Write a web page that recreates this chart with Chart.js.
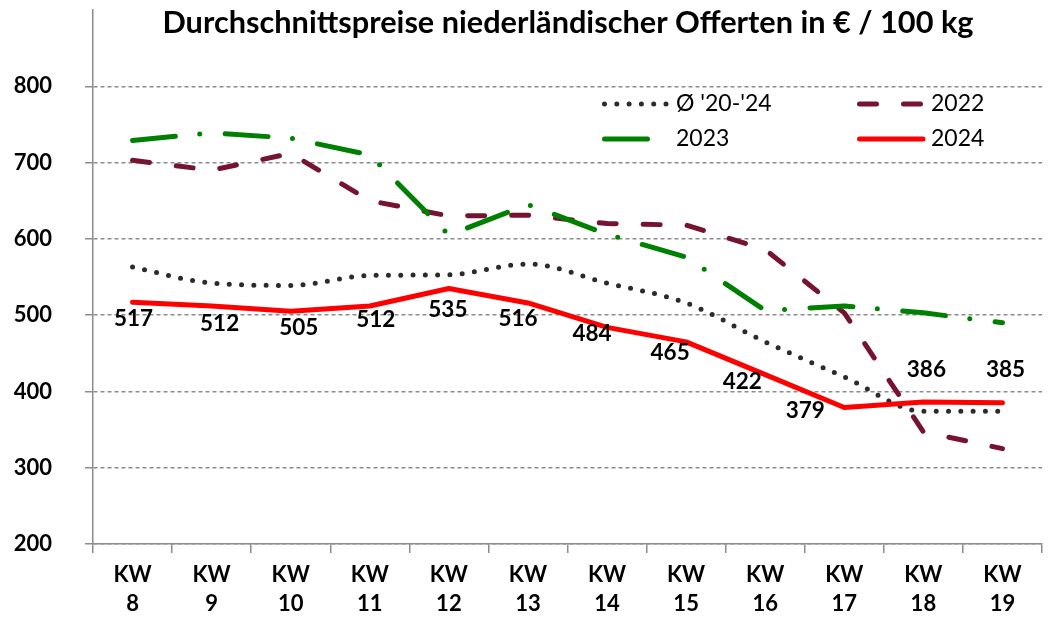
<!DOCTYPE html>
<html>
<head>
<meta charset="utf-8">
<script src="https://cdn.jsdelivr.net/npm/chart.js@4.4.1/dist/chart.umd.min.js"></script>
<style>
  html, body { margin: 0; padding: 0; background: #fff; }
</style>
</head>
<body>
<canvas id="priceChart" width="1053" height="624"></canvas>
<script>
// Chart data
const weeks = [["KW", "8"], ["KW", "9"], ["KW", "10"], ["KW", "11"], ["KW", "12"], ["KW", "13"],
               ["KW", "14"], ["KW", "15"], ["KW", "16"], ["KW", "17"], ["KW", "18"], ["KW", "19"]];
const avgValues = [563, 542, 539, 552, 553, 567, 542, 516, 465, 419, 374, 374];
const values2022 = [703, 690, 712, 650, 630, 631, 620, 618, 586, 503, 347, 325];
const values2023 = [729, 739, 732, 710, 605, 645, 606, 576, 506, 512, 503, 490];
const values2024 = [517, 512, 505, 512, 535, 516, 484, 465, 422, 379, 386, 385];
const seriesNames = ["Ø '20-'24", "2022", "2023", "2024"];
const titleText = "Durchschnittspreise niederländischer Offerten in € / 100 kg";

const FONT = "Lato";
const gridGray = "#8c8c8c";

// Title drawn over the top of the plot (the axis line runs up behind it)
const titlePlugin = {
    id: "topTitle",
    afterDraw(chart) {
        const ctx = chart.ctx;
        ctx.save();
        ctx.font = "bold 30.7px " + FONT;
        ctx.fillStyle = "#000";
        ctx.textAlign = "center";
        ctx.textBaseline = "middle";
        ctx.fillText(titleText, 568, 23);
        ctx.restore();
    }
};

// 2x2 legend inside the plot, top right
const legendPlugin = {
    id: "gridLegend",
    afterDatasetsDraw(chart) {
        const ctx = chart.ctx;
        const slots = [[602, 104], [857, 104], [602, 139], [857, 139]];
        chart.data.datasets.forEach((ds, i) => {
            const [x, y] = slots[i];
            ctx.save();
            ctx.strokeStyle = ds.borderColor;
            ctx.lineWidth = ds.borderWidth;
            ctx.lineCap = "round";
            ctx.setLineDash(ds.borderDash || []);
            ctx.beginPath();
            ctx.moveTo(x + 2.5, y);
            ctx.lineTo(x + 66, y);
            ctx.stroke();
            ctx.setLineDash([]);
            ctx.font = "23px " + FONT;
            ctx.fillStyle = "#000";
            ctx.textAlign = "left";
            ctx.textBaseline = "middle";
            ctx.fillText(ds.label, x + 74, y);
            ctx.restore();
        });
    }
};

// value labels for the 2024 line
const labelPlugin = {
    id: "valueLabels",
    afterDatasetsDraw(chart, args, opts) {
        const ctx = chart.ctx;
        const meta = chart.getDatasetMeta(opts.datasetIndex);
        const values = chart.data.datasets[opts.datasetIndex].data;
        ctx.save();
        ctx.font = "bold 22.5px " + FONT;
        ctx.fillStyle = "#000";
        ctx.textAlign = "center";
        ctx.textBaseline = "middle";
        meta.data.forEach((pt, i) => {
            const [dx, dy] = opts.offsets[i];
            ctx.fillText(values[i], pt.x + dx, pt.y + dy);
        });
        ctx.restore();
    }
};

const ctx = document.getElementById("priceChart").getContext("2d");
new Chart(ctx, {
    type: "line",
    data: {
        labels: weeks,
        datasets: [
            {
                label: seriesNames[0], data: avgValues, order: 3,
                borderColor: "#2b2b2b", borderWidth: 5, borderDash: [0, 12.3],
                cubicInterpolationMode: "monotone"
            },
            {
                label: seriesNames[1], data: values2022, order: 2,
                borderColor: "#761331", borderWidth: 5, borderDash: [17, 27]
            },
            {
                label: seriesNames[2], data: values2023, order: 1,
                borderColor: "#008000", borderWidth: 5, borderDash: [43, 24.5, 0, 25.5]
            },
            {
                label: seriesNames[3], data: values2024, order: 0,
                borderColor: "#ff0000", borderWidth: 5
            }
        ]
    },
    options: {
        responsive: false,
        animation: false,
        layout: { padding: { top: 10, right: 11, left: 0, bottom: 0 } },
        elements: {
            point: { radius: 0, hoverRadius: 0 },
            line: { fill: false, tension: 0, borderCapStyle: "round", borderJoinStyle: "round" }
        },
        plugins: {
            legend: { display: false },
            tooltip: { enabled: false },
            valueLabels: {
                datasetIndex: 3,
                offsets: [[1, 17], [8, 18], [8, 16], [6, 14], [-1, 21], [-10, 16],
                          [-15, 6], [-16, 11], [-23, 7], [-39, 3], [3, -32], [3, -33]]
            }
        },
        scales: {
            x: {
                offset: true,
                grid: { offset: true, drawOnChartArea: false, tickLength: 9, color: gridGray, lineWidth: 1.5 },
                border: { color: gridGray, width: 1.5 },
                ticks: {
                    color: "#000", padding: 7, maxRotation: 0, autoSkip: false,
                    font: { family: FONT, weight: "bold", size: 22, lineHeight: 1.32 }
                },
                afterFit(scale) { scale.height = 80; }
            },
            y: {
                min: 200, max: 900,
                ticks: {
                    stepSize: 100, color: "#000", padding: 33,
                    font: { family: FONT, weight: "bold", size: 22 },
                    callback: v => (v === 900 ? "" : v)
                },
                grid: {
                    tickLength: 8, lineWidth: 1.5,
                    color: c => (c.tick && c.tick.value === 900 ? "rgba(0,0,0,0)" : gridGray)
                },
                border: { color: gridGray, width: 1.5, dash: [4, 3] },
                afterFit(scale) {
                    scale.width = 93;
                    scale.paddingTop = 0;
                    scale.paddingBottom = 0;
                }
            }
        }
    },
    plugins: [titlePlugin, legendPlugin, labelPlugin]
});
</script>
</body>
</html>
